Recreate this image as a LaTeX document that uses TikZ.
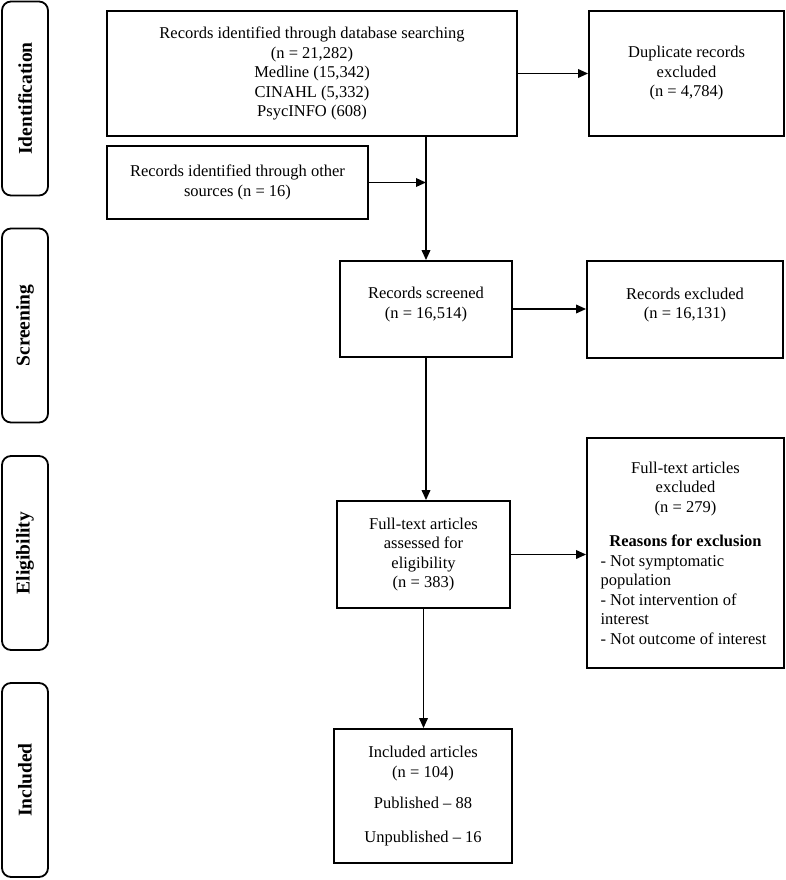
\documentclass[tikz,border=0pt]{standalone}
\usepackage{fontspec}
\setmainfont{Liberation Serif}
\usepackage{tikz}
\usetikzlibrary{arrows.meta}

\tikzset{
  flowbox/.style={draw, rectangle, align=center, line width=1.8pt, inner sep=2pt, font=\fontsize{16.5}{19.5}\selectfont},
  stagebox/.style={draw, rectangle, rounded corners=9pt, line width=1.8pt, rotate=90, minimum width=194pt, minimum height=46pt, inner sep=0pt, font=\fontsize{19.5}{22}\selectfont\bfseries},
  flowarrow/.style={-{Triangle[length=10pt,width=8.5pt]}, line width=1.8pt},
}

\begin{document}
\begin{tikzpicture}[x=1pt, y=-1pt]
                  \useasboundingbox (0,0) rectangle (786,880);

                  % Stage labels
                  \node [stagebox] (identification) at (25,98.5) {Identification};
                  \node [stagebox] (screening) at (25,325.5) {Screening};
                  \node [stagebox] (eligibility) at (25,553) {Eligibility};
                  \node [stagebox] (included) at (25,780) {Included};

                  % Nodes for records
                  \node [flowbox, minimum width=410pt, minimum height=125pt] (database) at (312,73.5) {Records identified through database searching\\(n = 21,282)\\Medline (15,342)\\CINAHL (5,332)\\PsycINFO (608)};
                  \node [flowbox, minimum width=195pt, minimum height=125pt] (duplicates) at (686.5,73.5) {Duplicate records\\excluded\\(n = 4,784)};
                  \node [flowbox, minimum width=261pt, minimum height=73pt] (othersrc) at (237.5,182.5) {Records identified through other\\sources (n = 16)};
                  \node [flowbox, minimum width=172pt, minimum height=96pt] (screened) at (426,309) {Records screened\\(n = 16,514)\\[-7pt]};
                  \node [flowbox, minimum width=196pt, minimum height=97pt] (recexcl) at (685,309.5) {Records excluded\\(n = 16,131)\\[-7pt]};
                  \node [flowbox, minimum width=173pt, minimum height=107pt] (fulltext) at (423.5,554.5) {Full-text articles\\assessed for\\eligibility\\(n = 383)};
                  \node [flowbox, align=none, text width=170pt, minimum width=197pt, minimum height=230pt, inner xsep=13.5pt] (ftexcl) at (685.5,553) {{\centering Full-text articles\\excluded\\(n = 279)\\[15pt]\textbf{Reasons for exclusion}\par}\raggedright - Not symptomatic\\population\\- Not intervention of\\interest\\- Not outcome of interest\par};
                  \node [flowbox, minimum width=178pt, minimum height=134pt] (inclart) at (423,796) {Included articles\\(n = 104)\\[12pt]Published -- 88\\[14pt]Unpublished -- 16};

                  % Arrows for records
                  \coordinate (join) at (othersrc.east -| screened.north);
                  \draw [flowarrow] (database.east) -- (duplicates.west);
                  \draw [flowarrow] (othersrc.east) -- (join);
                  \draw [flowarrow] (database.south -| screened.north) -- (screened.north);
                  \draw [flowarrow] (screened.east) -- (screened.east -| recexcl.west);
                  \draw [flowarrow] (screened.south) -- (screened.south |- fulltext.north);
                  \draw [flowarrow] (fulltext.east) -- (fulltext.east -| ftexcl.west);
                  \draw [flowarrow] (fulltext.south) -- (fulltext.south |- inclart.north);
              \end{tikzpicture}
\end{document}
